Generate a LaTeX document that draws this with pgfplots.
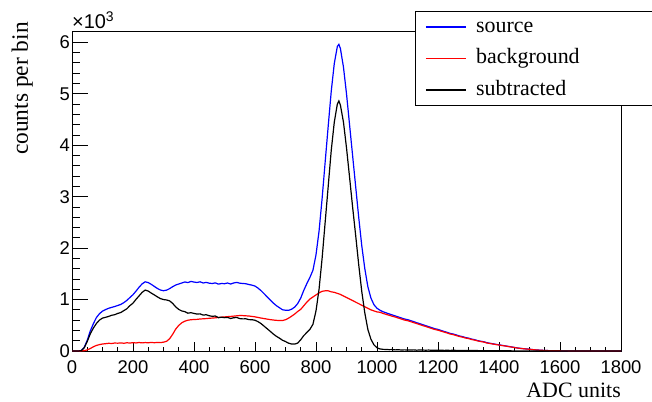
\documentclass[border=0pt]{standalone}
\usepackage{pgfplots}
\pgfplotsset{compat=1.18}
\usepackage{pgfplotstable}
\usepackage{fontspec}
\setmainfont{Liberation Serif}
\newfontfamily\arialfont{Liberation Sans}
\usetikzlibrary{calc}

\pgfplotstableread{
x src bkg sub
0 0 0 0
10 0 0 0
20 0 0 0
30 8 2 6
40 70 6 60
50 210 22 185
60 390 48 335
70 530 82 445
80 650 108 535
90 725 124 600
100 775 136 640
110 805 142 655
120 830 150 672
130 848 146 694
140 865 155 706
150 885 152 730
160 905 158 748
170 940 150 785
180 985 160 822
190 1040 155 882
200 1095 162 930
210 1165 157 1005
220 1240 165 1072
230 1305 158 1140
240 1345 164 1185
250 1330 160 1165
260 1295 167 1125
270 1255 161 1090
280 1215 166 1052
290 1185 163 1018
300 1172 172 1000
310 1183 188 992
320 1212 238 975
330 1250 325 925
340 1282 425 858
350 1303 498 808
360 1322 548 778
370 1342 580 765
380 1330 598 735
390 1352 608 745
400 1340 612 730
410 1332 615 718
420 1345 622 722
430 1322 626 698
440 1334 630 705
450 1318 636 685
460 1312 640 674
470 1324 645 680
480 1300 652 648
490 1312 658 656
500 1308 662 648
510 1322 668 652
520 1302 672 632
530 1322 678 646
540 1334 684 652
550 1318 690 630
560 1312 688 624
570 1308 684 626
580 1292 680 610
590 1280 672 608
600 1262 664 598
610 1222 652 570
620 1172 640 532
630 1112 630 482
640 1052 620 432
650 992 610 382
660 932 602 330
670 882 596 286
680 842 592 250
690 802 592 210
700 792 608 184
710 790 638 152
720 812 676 136
730 852 718 134
740 922 768 154
750 1030 810 220
760 1180 880 300
770 1310 950 360
780 1430 1010 420
790 1570 1050 520
800 1870 1090 780
810 2330 1130 1200
820 2960 1160 1800
830 3670 1170 2500
840 4370 1170 3200
850 5050 1150 3900
860 5590 1140 4450
870 5920 1120 4800
875 5960 1110 4860
880 5880 1100 4780
890 5520 1070 4450
900 5000 1040 3950
910 4400 1010 3380
920 3800 980 2800
930 3200 950 2250
940 2600 920 1680
950 2050 890 1160
960 1600 860 740
970 1250 830 420
980 1030 800 230
990 900 780 120
1000 830 760 62
1010 792 752 40
1020 762 730 32
1030 742 712 30
1040 720 694 26
1050 702 676 28
1060 682 660 22
1070 662 640 24
1080 642 622 20
1090 622 602 22
1100 610 590 20
1110 590 572 18
1120 572 552 22
1130 550 534 16
1140 532 514 20
1150 512 494 18
1160 492 476 16
1170 472 456 18
1180 452 436 14
1190 432 418 16
1200 420 404 14
1210 400 386 16
1220 380 368 12
1230 362 350 14
1240 342 330 12
1250 330 318 14
1260 312 300 12
1270 292 282 10
1280 280 270 12
1290 262 252 10
1300 250 242 8
1310 232 224 10
1320 220 212 8
1330 202 196 8
1340 190 184 6
1350 180 174 8
1360 162 156 6
1370 150 146 6
1380 140 136 4
1390 130 126 6
1400 120 116 4
1410 110 106 4
1420 100 98 4
1430 90 87 3
1440 80 78 3
1450 70 68 2
1460 60 58 2
1470 52 50 2
1480 45 44 2
1490 40 38 2
1500 35 34 1
1510 28 27 1
1520 22 21 1
1530 18 17 1
1540 14 14 1
1550 10 10 0
1560 8 8 0
1570 6 6 0
1580 5 5 0
1590 4 4 0
1600 3 3 0
1650 1 1 0
1700 0 0 0
1750 0 0 0
1800 0 0 0
}\datatable

\begin{document}
\begin{tikzpicture}
\useasboundingbox (-72bp,-51bp) rectangle (580bp,351bp);
% axis carrying the y ticks (drawn first)
\begin{axis}[
  at={(0,0)}, anchor=south west,
  scale only axis, width=549bp, height=320bp,
  xmin=0, xmax=1800, ymin=0, ymax=6220,
  hide x axis,
  axis line style={draw=none},
  tick align=inside, ytick pos=left,
  ytick={0,1000,2000,3000,4000,5000,6000},
  yticklabels={0,1,2,3,4,5,6},
  minor y tick num=4,
  major tick length=16bp, minor tick length=8bp,
  every tick/.style={black, line width=0.8bp},
  yticklabel style={font=\arialfont\fontsize{18.5}{20}\selectfont, inner sep=0pt},
  yticklabel shift=2bp,
]
\end{axis}
% main axis
\begin{axis}[
  name=ax,
  at={(0,0)}, anchor=south west,
  scale only axis, width=549bp, height=320bp,
  xmin=0, xmax=1800, ymin=0, ymax=6220,
  axis line style={line width=0.8bp},
  tick align=inside, xtick pos=bottom, ytick=\empty,
  xtick={0,200,400,600,800,1000,1200,1400,1600,1800},
  xticklabels={0,200,400,600,800,1000,1200,1400,1600,1800},
  minor x tick num=3,
  major tick length=9bp, minor tick length=4.5bp,
  every tick/.style={black, line width=0.8bp},
  xticklabel style={font=\arialfont\fontsize{18.5}{20}\selectfont, inner sep=0pt, anchor=north},
  xticklabel shift=9bp,
  legend style={at={(0.6248,1.0625)}, anchor=north west,
    font=\fontsize{22}{26}\selectfont,
    inner xsep=10bp, inner ysep=0bp, row sep=0pt, column sep=10bp,
    nodes={inner sep=0pt, text height=16bp, text depth=5bp, minimum height=31.5bp}},
  legend cell align=left,
  legend image post style={xscale=2.34},
]
\addplot[color=blue, line width=1.2bp] table[x=x, y=src] {\datatable};
\addlegendentry{\makebox[166bp][l]{source}}
\addplot[color=red, line width=1.2bp] table[x=x, y=bkg] {\datatable};
\addlegendentry{\makebox[166bp][l]{background}}
\addplot[color=black, line width=1.2bp] table[x=x, y=sub] {\datatable};
\addlegendentry{\makebox[166bp][l]{subtracted}}
\end{axis}
\node[anchor=base west, inner sep=0pt, font=\arialfont\fontsize{20}{22}\selectfont] at ($(ax.north west)+(0,2bp)$) {×10\textsuperscript{3}};
\node[rotate=90, anchor=base east, inner sep=0pt, font=\fontsize{23.5}{26}\selectfont] at ($(ax.north west)+(-44bp,9bp)$) {counts per bin};
\node[anchor=base east, inner sep=0pt, font=\fontsize{22}{26}\selectfont] at ($(ax.south east)+(0,-46bp)$) {ADC units};
\end{tikzpicture}
\end{document}
